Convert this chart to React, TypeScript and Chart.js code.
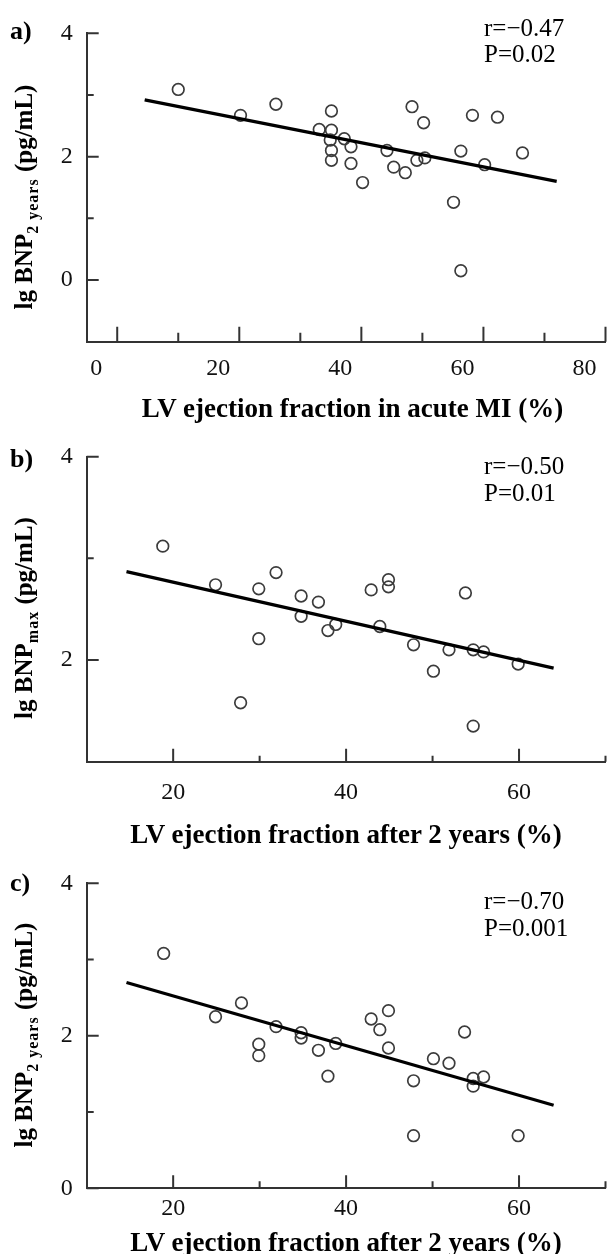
import React, { useEffect, useRef } from 'react';
import { Chart, registerables } from 'chart.js';
Chart.register(...registerables);

const SERIF = '"Liberation Serif", "Times New Roman", serif';

// ---- Panel a: LV EF in acute MI vs lg BNP 2 years
const aEF = [10.0, 20.2, 26.0, 35.1, 33.1, 35.1, 37.2, 34.9, 38.3, 35.1, 35.1, 38.3, 40.2, 48.3, 50.2, 58.2, 62.3, 44.2, 45.3, 47.2, 49.1, 50.4, 56.3, 60.2, 66.4, 55.1, 56.3];
const aBNP = [3.09, 2.67, 2.85, 2.74, 2.44, 2.43, 2.29, 2.27, 2.16, 2.10, 1.94, 1.89, 1.58, 2.81, 2.55, 2.67, 2.64, 2.10, 1.83, 1.74, 1.94, 1.98, 2.09, 1.87, 2.06, 1.26, 0.15];
const aFitX = [4.5, 72];
const aFitY = [2.92, 1.6];
const aXLabels = [0, 20, 40, 60, 80];
const aXMinor = [10, 30, 50, 70];
const aYLabels = [0, 2, 4];
const aYMinor = [1, 3];

// ---- Panel b: LV EF after 2 years vs lg BNP max
const bEF = [18.8, 24.9, 29.9, 31.9, 34.8, 36.8, 34.8, 38.8, 37.9, 29.9, 42.9, 44.9, 44.9, 43.9, 47.8, 51.9, 50.1, 53.8, 27.8, 54.7, 55.9, 59.9, 54.7];
const bBNP = [3.12, 2.74, 2.7, 2.86, 2.63, 2.57, 2.43, 2.35, 2.29, 2.21, 2.69, 2.79, 2.72, 2.33, 2.15, 2.1, 1.89, 2.66, 1.58, 2.1, 2.08, 1.96, 1.35];
const bFitX = [14.6, 64];
const bFitY = [2.87, 1.92];
const bXLabels = [20, 40, 60];
const bXMinor = [30, 50, 70];
const bYLabels = [2, 4];
const bYMinor = [3];

// ---- Panel c: LV EF after 2 years vs lg BNP 2 years
const cEF = [18.9, 24.9, 27.9, 31.9, 34.8, 34.8, 29.9, 29.9, 36.8, 38.8, 37.9, 42.9, 44.9, 43.9, 44.9, 47.8, 47.8, 50.1, 51.9, 53.7, 54.7, 54.7, 55.9, 59.9];
const cBNP = [3.08, 2.25, 2.43, 2.12, 2.04, 1.97, 1.89, 1.74, 1.81, 1.9, 1.47, 2.22, 2.33, 2.08, 1.84, 1.41, 0.69, 1.7, 1.64, 2.05, 1.44, 1.34, 1.46, 0.69];
const cFitX = [14.6, 64];
const cFitY = [2.7, 1.09];
const cXLabels = [20, 40, 60];
const cXMinor = [30, 50, 70];
const cYLabels = [0, 2, 4];
const cYMinor = [1, 3];

const panelLetters = ['a)', 'b)', 'c)'];
const statR = ['r=\u22120.47', 'r=\u22120.50', 'r=\u22120.70'];
const statP = ['P=0.02', 'P=0.01', 'P=0.001'];
const xTitles = ['LV ejection fraction in acute MI (%)', 'LV ejection fraction after 2 years (%)', 'LV ejection fraction after 2 years (%)'];
const ySubs = ['2 years', 'max', '2 years'];

type Panel = {
  key: string; top: number; height: number;
  area: { top: number; bottom: number; left: number; right: number };
  xs: number[]; ys: number[]; fitX: number[]; fitY: number[];
  xMin: number; xMax: number; yMin: number; yMax: number;
  xLabels: number[]; xMinor: number[]; yLabels: number[]; yMinor: number[];
  xPad: number; xLabelOffset: number;
  xMajorLen: number; xMinorLen: number; yMajorLen: number; yMinorLen: number;
};

const panels: Panel[] = [
  {
    key: 'a', top: 0, height: 400,
    area: { top: 33.3, bottom: 341.7, left: 86.7, right: 607.4 },
    xs: aEF, ys: aBNP, fitX: aFitX, fitY: aFitY,
    xMin: -5, xMax: 80, yMin: -1, yMax: 4,
    xLabels: aXLabels, xMinor: aXMinor, yLabels: aYLabels, yMinor: aYMinor,
    xPad: 13, xLabelOffset: -21,
    xMajorLen: 15, xMinorLen: 9, yMajorLen: 12, yMinorLen: 7,
  },
  {
    key: 'b', top: 400, height: 410,
    area: { top: 56.7, bottom: 361.7, left: 86.7, right: 607.4 },
    xs: bEF, ys: bBNP, fitX: bFitX, fitY: bFitY,
    xMin: 10, xMax: 70, yMin: 1, yMax: 4,
    xLabels: bXLabels, xMinor: bXMinor, yLabels: bYLabels, yMinor: bYMinor,
    xPad: 17, xLabelOffset: 0,
    xMajorLen: 13, xMinorLen: 6, yMajorLen: 12, yMinorLen: 7,
  },
  {
    key: 'c', top: 820, height: 420,
    area: { top: 63.3, bottom: 368.3, left: 86.7, right: 607.4 },
    xs: cEF, ys: cBNP, fitX: cFitX, fitY: cFitY,
    xMin: 10, xMax: 70, yMin: 0, yMax: 4,
    xLabels: cXLabels, xMinor: cXMinor, yLabels: cYLabels, yMinor: cYMinor,
    xPad: 6, xLabelOffset: 0,
    xMajorLen: 13, xMinorLen: 7, yMajorLen: 12, yMinorLen: 7,
  },
];

const inTicks = {
  id: 'inTicks',
  afterDraw(chart: any, _args: any, opts: any) {
    const { ctx, chartArea } = chart;
    const xs = chart.scales.x;
    const ys = chart.scales.y;
    ctx.save();
    ctx.strokeStyle = '#333';
    ctx.lineWidth = 2;
    ctx.beginPath();
    const vx = (vals: number[], len: number) => {
      vals.forEach((v) => {
        const px = xs.getPixelForValue(v);
        ctx.moveTo(px, chartArea.bottom);
        ctx.lineTo(px, chartArea.bottom - len);
      });
    };
    const vy = (vals: number[], len: number) => {
      vals.forEach((v) => {
        const py = ys.getPixelForValue(v);
        ctx.moveTo(chartArea.left, py);
        ctx.lineTo(chartArea.left + len, py);
      });
    };
    vx(opts.xMajor, opts.xMajorLen);
    vx(opts.xMinor, opts.xMinorLen);
    vy(opts.yMajor, opts.yMajorLen);
    vy(opts.yMinor, opts.yMinorLen);
    ctx.stroke();
    ctx.restore();
  },
};

function PanelChart({ p }: { p: Panel }) {
  const ref = useRef<HTMLCanvasElement>(null);
  useEffect(() => {
    const canvas = ref.current;
    if (!canvas) return;
    const W = 613;
    const tickFont = { family: SERIF, size: 24, weight: 'normal' as const };
    const chart = new Chart(canvas, {
      type: 'scatter',
      data: {
        datasets: [
          {
            data: p.xs.map((x, i) => ({ x, y: p.ys[i] })),
            pointRadius: 5.8,
            pointBorderWidth: 1.7,
            borderWidth: 1.7,
            borderColor: '#3c3c3c',
            pointBorderColor: '#3c3c3c',
            backgroundColor: 'rgba(0,0,0,0)',
            pointBackgroundColor: 'rgba(0,0,0,0)',
            showLine: false,
            order: 2,
          } as any,
          {
            data: p.fitX.map((x, i) => ({ x, y: p.fitY[i] })),
            showLine: true,
            borderColor: '#000',
            borderWidth: 3.2,
            pointRadius: 0,
            order: 1,
          } as any,
        ],
      },
      options: {
        responsive: false,
        animation: false,
        devicePixelRatio: 1,
        layout: { padding: { top: p.area.top, right: W - p.area.right, bottom: 0, left: 0 } },
        plugins: {
          legend: { display: false },
          tooltip: { enabled: false },
          inTicks: {
            xMajor: p.xLabels, xMinor: p.xMinor, yMajor: p.yLabels, yMinor: p.yMinor,
            xMajorLen: p.xMajorLen, xMinorLen: p.xMinorLen, yMajorLen: p.yMajorLen, yMinorLen: p.yMinorLen,
          },
        } as any,
        scales: {
          x: {
            type: 'linear',
            min: p.xMin,
            max: p.xMax,
            grid: { display: false, drawTicks: false },
            border: { display: true, color: '#333', width: 2 },
            ticks: { font: tickFont, color: '#111', padding: p.xPad, labelOffset: p.xLabelOffset },
            afterBuildTicks: (s: any) => { s.ticks = p.xLabels.map((v) => ({ value: v })); },
            afterFit: (s: any) => { s.height = p.height - p.area.bottom; s.paddingLeft = 0; s.paddingRight = 0; },
          },
          y: {
            type: 'linear',
            min: p.yMin,
            max: p.yMax,
            grid: { display: false, drawTicks: false },
            border: { display: true, color: '#333', width: 2 },
            ticks: { font: tickFont, color: '#111', padding: 14 },
            afterBuildTicks: (s: any) => { s.ticks = p.yLabels.map((v) => ({ value: v })); },
            afterFit: (s: any) => { s.width = p.area.left; s.paddingTop = 0; s.paddingBottom = 0; },
          },
        } as any,
      },
      plugins: [inTicks as any],
    });
    return () => chart.destroy();
  }, [p]);
  return (
    <canvas
      ref={ref}
      width={613}
      height={p.height}
      style={{ position: 'absolute', left: 0, top: p.top, width: 613, height: p.height, display: 'block' }}
    />
  );
}

const letterPos = [31, 459, 883];
const statPos = [[26.7, 53.3], [465, 491.7], [900, 926.7]];
const xTitlePos = [[352.5, 407.5], [346, 834], [346, 1242]];
const yTitlePos = [196.5, 618, 1035];

export default function App() {
  return (
    <div style={{ position: 'absolute', left: 0, top: 0, width: 613, height: 1254, overflow: 'hidden', background: '#fff', fontFamily: SERIF, color: '#000' }}>
      {panels.map((p) => <PanelChart key={p.key} p={p} />)}
      {panelLetters.map((t, i) => (
        <div key={'l' + i} style={{ position: 'absolute', left: 10, top: letterPos[i], transform: 'translateY(-50%)', fontSize: 26, fontWeight: 'bold', lineHeight: 1, whiteSpace: 'nowrap' }}>{t}</div>
      ))}
      {statR.map((t, i) => (
        <React.Fragment key={'s' + i}>
          <div style={{ position: 'absolute', left: 484, top: statPos[i][0], transform: 'translateY(-50%)', fontSize: 25, lineHeight: 1, whiteSpace: 'nowrap' }}>{t}</div>
          <div style={{ position: 'absolute', left: 484, top: statPos[i][1], transform: 'translateY(-50%)', fontSize: 25, lineHeight: 1, whiteSpace: 'nowrap' }}>{statP[i]}</div>
        </React.Fragment>
      ))}
      {xTitles.map((t, i) => (
        <div key={'x' + i} style={{ position: 'absolute', left: xTitlePos[i][0], top: xTitlePos[i][1], transform: 'translate(-50%, -50%)', fontSize: 27, fontWeight: 'bold', lineHeight: 1, whiteSpace: 'nowrap' }}>{t}</div>
      ))}
      {ySubs.map((s, i) => (
        <div key={'y' + i} style={{ position: 'absolute', left: 23.3, top: yTitlePos[i], transform: 'translate(-50%, -50%) rotate(-90deg)', fontSize: 25, fontWeight: 'bold', lineHeight: 1, whiteSpace: 'nowrap' }}>
          lg BNP<span style={{ fontSize: 16, letterSpacing: 1, position: 'relative', top: 6 }}>{s}</span> (pg/mL)
        </div>
      ))}
    </div>
  );
}
